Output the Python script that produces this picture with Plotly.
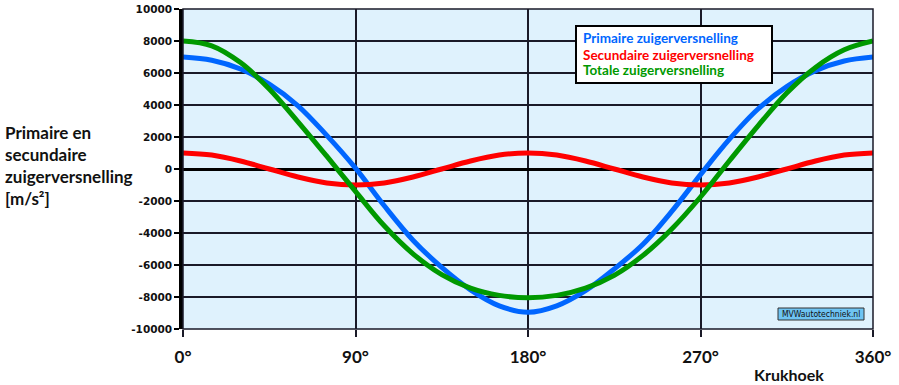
import plotly.graph_objects as go

# ---- data ----
angles = [0, 15, 30, 45, 60, 75, 90, 105, 120, 135, 150, 165, 180,
          195, 210, 225, 240, 255, 270, 285, 300, 315, 330, 345, 360]
primaire = [7000, 6800, 6250, 5300, 3950, 2100, 50, -2300, -4450, -6150, -7550, -8550, -8950,
            -8550, -7600, -6250, -4700, -2650, -350, 1850, 3750, 5150, 6150, 6750, 7000]
secundaire = [1000, 870, 500, 0, -500, -870, -1000, -870, -500, 0, 500, 870, 1000,
              870, 500, 0, -500, -870, -1000, -870, -500, 0, 500, 870, 1000]
totale = [8000, 7700, 6650, 5000, 2950, 800, -1400, -3550, -5300, -6600, -7450, -7900, -8050,
          -7900, -7450, -6650, -5400, -3750, -1750, 500, 2700, 4750, 6350, 7450, 8000]

x_ticks = [0, 90, 180, 270, 360]
x_ticklabels = ["0°", "90°", "180°", "270°", "360°"]
y_ticks = [10000, 8000, 6000, 4000, 2000, 0, -2000, -4000, -6000, -8000, -10000]

series_names = ["Primaire zuigerversnelling", "Secundaire zuigerversnelling", "Totale zuigerversnelling"]
colors = ["#0066FF", "#FF0000", "#009900"]

W, H = 899, 385
L, R, T, B = 183, 26, 9, 56
PW, PH = W - L - R, H - T - B


def px(x):
    return (x - L) / PW


def py(y):
    return (H - B - y) / PH


fig = go.Figure()
for vals, name, col in zip([primaire, secundaire, totale], series_names, colors):
    fig.add_trace(go.Scatter(x=angles, y=vals, mode="lines", name=name,
                             line=dict(color=col, width=5, shape="spline", smoothing=1.0),
                             showlegend=False, hoverinfo="skip"))

gridc = "#1a1a28"
fig.update_layout(
    width=W, height=H,
    margin=dict(l=L, r=R, t=T, b=B, autoexpand=False),
    paper_bgcolor="white",
    plot_bgcolor="#DFF2FD",
    xaxis=dict(range=[0, 360], tickvals=x_ticks,
               ticktext=["<b>%s</b>" % t for t in x_ticklabels],
               tickfont=dict(family="Lato", size=17, color="#111"),
               showgrid=True, gridcolor=gridc, gridwidth=1.5,
               ticks="outside", ticklen=7, tickwidth=1.5, tickcolor=gridc,
               ticklabelstandoff=6,
               zeroline=False, showline=False, automargin=False),
    yaxis=dict(range=[-10000, 10000], tickvals=y_ticks,
               ticktext=["<b>%d</b>" % v for v in y_ticks],
               tickfont=dict(family="DejaVu Sans", size=10.5, color="#111"),
               showgrid=True, gridcolor=gridc, gridwidth=1.5,
               ticks="outside", ticklen=5, tickwidth=1.5, tickcolor="black",
               zeroline=True, zerolinecolor="black", zerolinewidth=2.5,
               showline=True, linecolor="black", linewidth=3.5,
               automargin=False),
    showlegend=False,
)

# plot border (right / top)
fig.add_shape(type="rect", xref="paper", yref="paper", x0=0, x1=1, y0=0, y1=1,
              line=dict(color=gridc, width=1.5), layer="above")

# legend box
fig.add_shape(type="rect", xref="paper", yref="paper",
              x0=px(576), x1=px(772), y0=py(83), y1=py(26),
              fillcolor="white", line=dict(color="black", width=2), layer="above")
for name, col, yc in zip(series_names, colors, [38.5, 54.5, 70.5]):
    fig.add_annotation(xref="paper", yref="paper", x=px(582), y=py(yc),
                       xanchor="left", yanchor="middle", showarrow=False,
                       text="<b>%s</b>" % name, borderpad=0,
                       font=dict(family="Lato", size=13.5, color=col))

# watermark
fig.add_shape(type="rect", xref="paper", yref="paper",
              x0=px(778), x1=px(864), y0=py(320), y1=py(308),
              fillcolor="#6EC3F2", line=dict(color="#333", width=1), layer="above")
fig.add_annotation(xref="paper", yref="paper", x=px(821), y=py(314),
                   xanchor="center", yanchor="middle", showarrow=False,
                   text="MVWautotechniek.nl",
                   font=dict(family="DejaVu Sans Condensed, DejaVu Sans", size=8.5, color="#111"))

# axis titles
fig.add_annotation(xref="paper", yref="paper", x=px(789), y=py(374),
                   xanchor="center", yanchor="middle", showarrow=False,
                   text="<b>Krukhoek</b>",
                   font=dict(family="Lato", size=16, color="#111"))
fig.add_annotation(xref="paper", yref="paper", x=px(3), y=py(165),
                   xanchor="left", yanchor="middle", align="left", showarrow=False,
                   text="<b>Primaire en<br>secundaire<br>zuigerversnelling<br>[m/s²]</b>",
                   font=dict(family="Lato", size=17, color="#111"))

fig.write_html("out.html", config={"displayModeBar": False},
               post_script="document.body.style.margin='0';document.body.style.padding='0';")
